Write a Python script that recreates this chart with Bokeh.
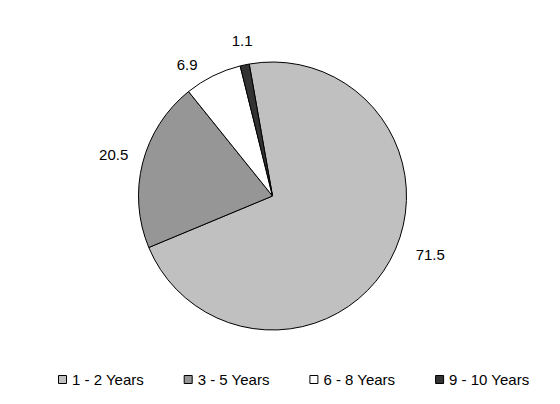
import numpy as np
from bokeh.plotting import figure
from bokeh.models import ColumnDataSource, Range1d
from bokeh.core.properties import value
from bokeh.embed import file_html
from bokeh.resources import INLINE

# ---- data ----
categories = ["1 - 2 Years", "3 - 5 Years", "6 - 8 Years", "9 - 10 Years"]
values = [71.5, 20.5, 6.9, 1.1]
label_texts = ["71.5", "20.5", "6.9", "1.1"]

# ---- style ----
colors = ["#C0C0C0", "#969696", "#FFFFFF", "#333333"]
W, H = 544, 388
CX, CY, R = 272.0, 192.5, 134.0
START_DEG = -10.0           # clockwise from 12 o'clock
LABEL_R = 1.2 * R
label_nudge_x = [16.7, -3.0, -14.0, 3.0]
label_nudge_y = [18.7, 1.0, -13.0, -2.5]
LEG_X0, LEG_DX, LEG_Y = 62.0, 125.7, 9.0
LEG_STANDOFF = 9.5
FONT = "Liberation Sans"

vals = np.array(values, dtype=float)
frac = vals / vals.sum()
cum = np.concatenate([[0.0], np.cumsum(frac)]) * 360.0 + START_DEG
theta_s = cum[:-1]
theta_e = cum[1:]
mid = (theta_s + theta_e) / 2.0

start_angle = np.radians(90.0 - theta_s)
end_angle = np.radians(90.0 - theta_e)

p = figure(width=W, height=H, output_backend="svg", toolbar_location=None,
           x_range=Range1d(0, W), y_range=Range1d(0, H),
           x_axis_location=None, y_axis_location=None,
           min_border=0, min_border_left=0, min_border_right=0,
           min_border_top=0, min_border_bottom=0)
p.grid.visible = False
p.outline_line_color = None
p.background_fill_color = "white"
p.border_fill_color = "white"

src = ColumnDataSource(dict(start=start_angle, end=end_angle, color=colors, cat=categories))
p.wedge(x=CX, y=CY, radius=R, start_angle="start", end_angle="end", direction="clock",
        fill_color="color", line_color="black", line_width=1, source=src)

# data labels
lx = CX + LABEL_R * np.sin(np.radians(mid)) + np.array(label_nudge_x)
ly = CY + LABEL_R * np.cos(np.radians(mid)) + np.array(label_nudge_y)
p.text(x=lx, y=ly, text=label_texts, text_align="center", text_baseline="middle",
       text_font=value(FONT), text_font_size="15px", text_color="black")

# legend (drawn manually to match layout)
n = len(categories)
leg_x = LEG_X0 + LEG_DX * np.arange(n)
leg_y = np.full(n, LEG_Y)
p.scatter(x=leg_x, y=leg_y, marker="square", size=8, fill_color=colors,
          line_color="black", line_width=1)
p.text(x=leg_x + LEG_STANDOFF, y=leg_y, text=categories, text_align="left",
       text_baseline="middle", text_font=value(FONT), text_font_size="15px",
       text_color="black")

open("out.html", "w").write(file_html(p, INLINE))
